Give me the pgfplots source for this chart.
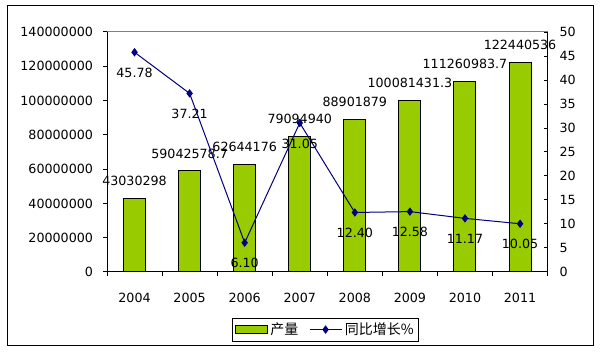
\documentclass[border=0pt]{standalone}
\usepackage{fontspec}
\setmainfont{DejaVu Sans}
\newfontfamily\cjk{Noto Sans CJK SC}
\usepackage{pgfplots}
\pgfplotsset{compat=1.18}
\definecolor{bargreen}{RGB}{153,204,0}
\definecolor{linenavy}{RGB}{0,0,128}
\pgfplotsset{
  barlegend/.style={legend image code/.code={\draw[##1] (0pt,-3pt) rectangle (24pt,3pt);}},
  linelegend/.style={legend image code/.code={\draw[##1, mark repeat=2, mark phase=2] plot coordinates {(0pt,0pt) (12pt,0pt) (24pt,0pt)};}},
}
\begin{document}
\begin{tikzpicture}[x=0.75pt,y=0.75pt]
\useasboundingbox (0,0) rectangle (601,353);
\draw[black, line width=0.75pt] (7,7) rectangle (593,347);
\begin{axis}[
  at={(80.25pt,60.75pt)}, anchor=south west, scale only axis,
  width=330.45pt, height=180pt,
  xmin=-0.5, xmax=7.5, ymin=0, ymax=140000000,
  axis x line*=bottom, axis y line*=left,
  axis line style={-, black, line width=0.75pt},
  xtick={-0.5,0.5,...,7.5},
  xticklabels={2004,2005,2006,2007,2008,2009,2010,2011},
  x tick label as interval,
  xtick align=inside, ytick align=outside,
  major tick length=3pt,
  tick style={black, line width=0.75pt},
  ytick={0,20000000,...,140000000},
  scaled y ticks=false,
  /pgf/number format/fixed, /pgf/number format/1000 sep={},
  /pgf/number format/assume math mode=true,
  every tick label/.append style={font=\fontsize{9.5}{11}\selectfont, text=black},
  xticklabel style={yshift=-9.5pt},
  yticklabel style={xshift=-4pt},
  clip=false,
  ybar, bar width=16.5pt,
  nodes near coords, point meta=explicit symbolic,
  every node near coord/.append style={anchor=center, yshift=13pt, font=\fontsize{9.5}{11}\selectfont, text=black},
  after end axis/.code={\draw[gray, line width=0.75pt] (rel axis cs:0,1) -- (rel axis cs:1,1);},
]
\addplot[fill=bargreen, draw=black, line width=0.75pt] coordinates {
  (0,43030298) [43030298]
  (1,59042578.7) [59042578.7]
  (2,62644176) [62644176]
  (3,79094940) [79094940]
  (4,88901879) [88901879]
  (5,100081431.3) [100081431.3]
  (6,111260983.7) [111260983.7]
  (7,122440536) [122440536]
};
\end{axis}
\begin{axis}[
  at={(80.25pt,60.75pt)}, anchor=south west, scale only axis,
  width=330.45pt, height=180pt,
  xmin=-0.5, xmax=7.5, ymin=0, ymax=50,
  axis x line=none, axis y line*=right,
  axis line style={-, black, line width=0.75pt},
  ytick={0,5,...,50},
  ytick align=inside, major tick length=3pt,
  tick style={black, line width=0.75pt},
  /pgf/number format/assume math mode=true,
  every tick label/.append style={font=\fontsize{9.5}{11}\selectfont, text=black},
  yticklabel style={xshift=5.5pt},
  clip=false,
  legend columns=2,
  legend style={at={(0.496,-0.24)}, anchor=center, draw=black, line width=0.75pt,
    font=\cjk\fontsize{10.5}{12}\selectfont, inner sep=1.5pt,
    /tikz/every even column/.append style={column sep=6pt}},
]
\addlegendimage{fill=bargreen, draw=black, line width=0.75pt, barlegend}
\addlegendentry{产量}
\addplot[color=linenavy, line width=0.75pt, mark=diamond*, mark size=2.6pt,
  mark options={fill=linenavy, draw=linenavy},
  nodes near coords, point meta=explicit symbolic,
  every node near coord/.append style={anchor=center, yshift=-15.4pt, font=\fontsize{9.5}{11}\selectfont, text=black},
  linelegend
] coordinates {
  (0,45.78) [45.78]
  (1,37.21) [37.21]
  (2,6.10) [6.10]
  (3,31.05) [31.05]
  (4,12.40) [12.40]
  (5,12.58) [12.58]
  (6,11.17) [11.17]
  (7,10.05) [10.05]
};
\addlegendentry{同比增长\%}
\end{axis}
\end{tikzpicture}
\end{document}
